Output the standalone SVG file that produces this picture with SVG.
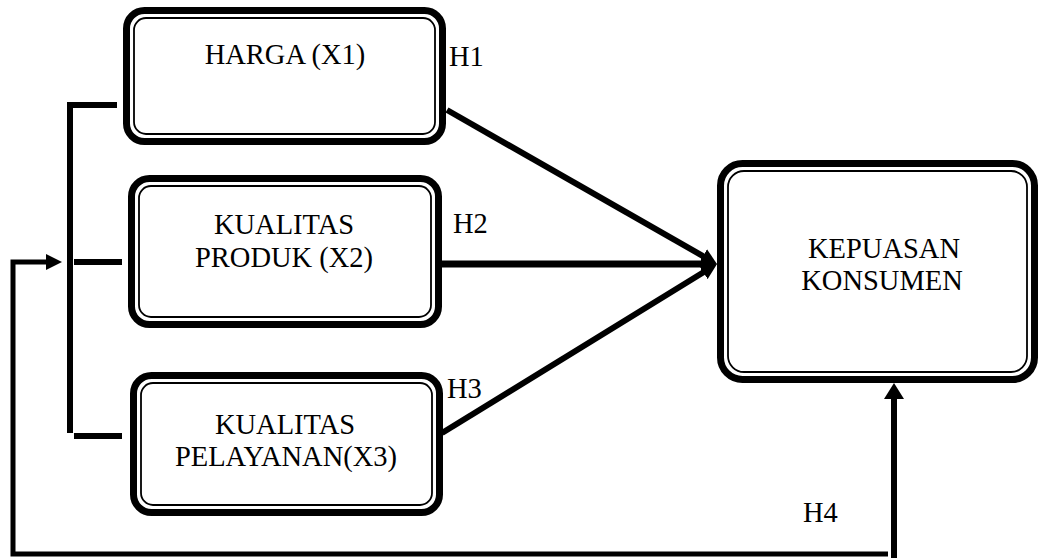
<svg xmlns="http://www.w3.org/2000/svg" width="1041" height="558" viewBox="0 0 1041 558">
<style>
.thick{fill:#fff;stroke:#000;stroke-width:7}
.thin{fill:none;stroke:#000;stroke-width:1.8}
.lbl{font-family:"Liberation Serif","Times New Roman",serif;font-size:28.5px;fill:#000}
.c{text-anchor:middle}
.ln{fill:none;stroke:#000;stroke-linejoin:miter;stroke-linecap:butt}
</style>
<defs>
<marker id="ah" viewBox="0 0 16 16" markerUnits="userSpaceOnUse" markerWidth="16" markerHeight="16" refX="2" refY="8" orient="auto">
<path d="M0,0 L16,8 L0,16 z" fill="#000"/>
</marker>
<marker id="ah2" viewBox="0 0 16 20" markerUnits="userSpaceOnUse" markerWidth="16" markerHeight="20" refX="2" refY="10" orient="auto">
<path d="M0,0 L16,10 L0,20 z" fill="#000"/>
</marker>
</defs>
<g id="connectors">
<polyline class="ln" points="117,105 70,105 70,433" style="stroke-width:6"/>
<line class="ln" x1="74" y1="262" x2="122" y2="262" style="stroke-width:6"/>
<line class="ln" x1="74" y1="436" x2="122" y2="436" style="stroke-width:6"/>
<polyline class="ln" points="888,554 13,554 13,262 48,262" style="stroke-width:5" marker-end="url(#ah)"/>
<line class="ln" x1="894" y1="560" x2="894" y2="397" style="stroke-width:6" marker-end="url(#ah2)"/>
<line class="ln" x1="447" y1="110" x2="704.8" y2="257.1" style="stroke-width:6" marker-end="url(#ah)"/>
<line class="ln" x1="442" y1="264" x2="703" y2="264" style="stroke-width:7" marker-end="url(#ah)"/>
<line class="ln" x1="442" y1="433" x2="705.1" y2="271.3" style="stroke-width:6" marker-end="url(#ah)"/>
</g>
<g id="harga">
<rect class="thick" x="126.5" y="10.5" width="316" height="131" rx="18"/>
<rect class="thin" x="134" y="18" width="301" height="116" rx="12"/>
<text class="lbl c" x="285" y="64">HARGA (X1)</text>
</g>
<g id="kualitas-produk">
<rect class="thick" x="131.5" y="178.5" width="307" height="146" rx="18"/>
<rect class="thin" x="139" y="186" width="292" height="131" rx="12"/>
<text class="lbl c" x="284" y="234">KUALITAS</text>
<text class="lbl c" x="284" y="267">PRODUK (X2)</text>
</g>
<g id="kualitas-pelayanan">
<rect class="thick" x="133.5" y="375.5" width="306" height="137" rx="18"/>
<rect class="thin" x="141" y="383" width="291" height="122" rx="12"/>
<text class="lbl c" x="285" y="434">KUALITAS</text>
<text class="lbl c" x="286" y="466">PELAYANAN(X3)</text>
</g>
<g id="kepuasan">
<rect class="thick" x="720.5" y="163.5" width="314" height="216" rx="22"/>
<rect class="thin" x="728" y="171" width="299" height="201" rx="16"/>
<text class="lbl c" x="884" y="258">KEPUASAN</text>
<text class="lbl c" x="882" y="290">KONSUMEN</text>
</g>
<g id="labels">
<text class="lbl" x="449" y="66">H1</text>
<text class="lbl" x="453" y="233">H2</text>
<text class="lbl" x="447" y="398">H3</text>
<text class="lbl" x="803" y="522">H4</text>
</g>
</svg>
